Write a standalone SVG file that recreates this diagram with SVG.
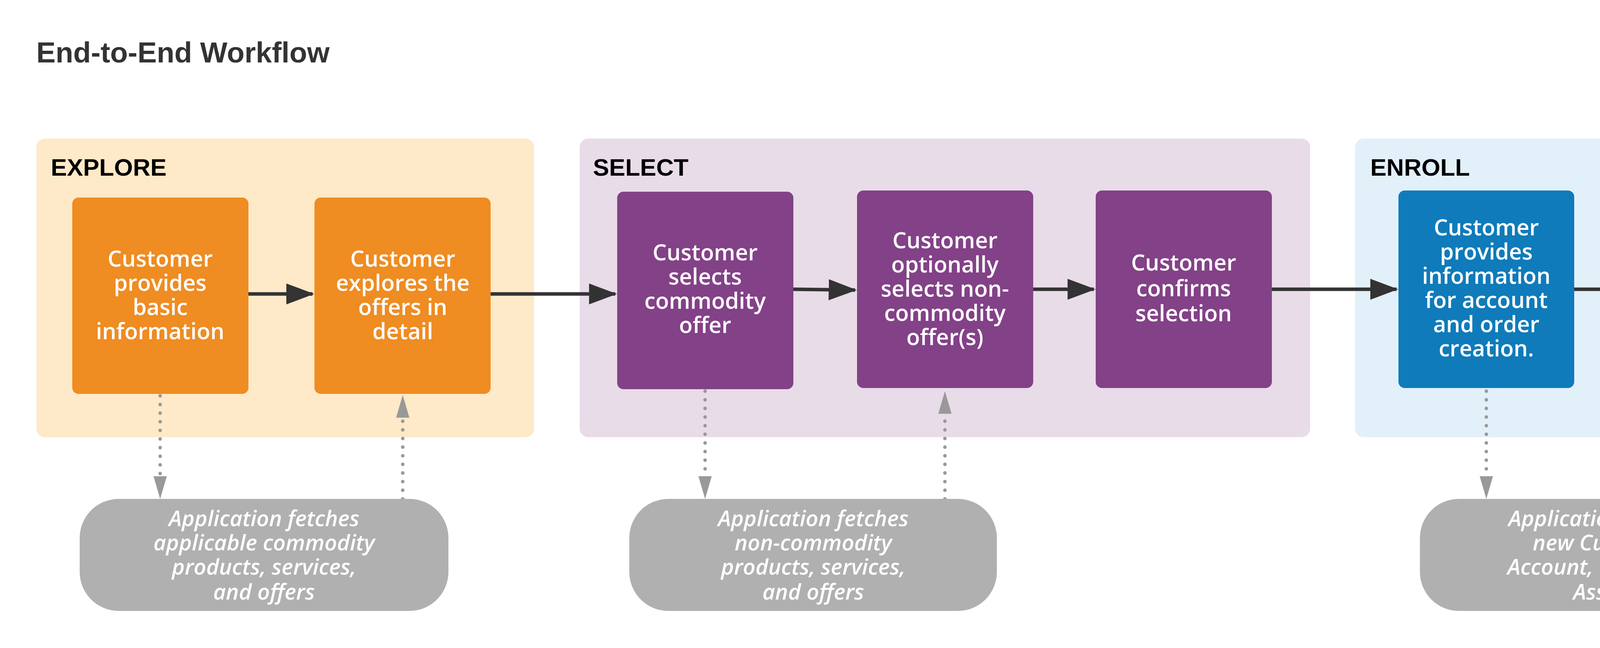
<svg xmlns="http://www.w3.org/2000/svg" width="4839" height="1660" viewBox="0 0 4839 1660">
<style>
.ttl{font-family:"Liberation Sans",Arial,sans-serif;font-weight:bold;font-size:74px;fill:#333}
.ph{font-family:"Liberation Sans",Arial,sans-serif;font-weight:bold;font-size:62px;fill:#000}
.nt{font-family:"Open Sans","Noto Sans",sans-serif;font-weight:600;font-size:57px;fill:#fff;text-anchor:middle}
.gt{font-family:"Open Sans","Noto Sans",sans-serif;font-style:italic;font-weight:600;font-size:56px;fill:#fff;text-anchor:middle}
.flow{stroke:#333;stroke-width:9;fill:none;marker-end:url(#ah)}
.dot{stroke:#999;stroke-width:9;stroke-linecap:round;stroke-dasharray:0.1 22;fill:none}
</style>
<defs>
<marker id="ah" markerWidth="8" markerHeight="6" refX="7.5" refY="3" orient="auto" markerUnits="strokeWidth"><path d="M0,0 L8,3 L0,6 Z" fill="#333"/></marker>
</defs>
<rect width="4839" height="1660" fill="#fff"/>
<text class="ttl" x="93" y="160">End-to-End Workflow</text>
<g id="explore"><rect x="93" y="355" width="1274" height="765" rx="22" fill="#FEE9C8"/><text class="ph" x="130" y="450">EXPLORE</text></g>
<g id="select"><rect x="1484" y="355" width="1870" height="765" rx="22" fill="#E8DCE9"/><text class="ph" x="1518" y="450">SELECT</text></g>
<g id="enroll"><rect x="3469" y="355" width="1274" height="765" rx="22" fill="#E2F0FA"/><text class="ph" x="3508" y="450">ENROLL</text></g>

<g id="connectors">
<line class="flow" x1="636" y1="753" x2="800" y2="753"/>
<line class="flow" x1="1256" y1="753" x2="1575" y2="753"/>
<line class="flow" x1="2031" y1="741" x2="2189" y2="743"/>
<line class="flow" x1="2645" y1="741" x2="2800" y2="741"/>
<line class="flow" x1="3256" y1="741" x2="3575" y2="741"/>
<line class="flow" x1="4030" y1="741" x2="4173" y2="741"/>
<path class="dot" d="M410 1014 V1220"/><path d="M393 1220 L427 1220 L410 1278 Z" fill="#999"/>
<path class="dot" d="M1031 1278 V1072"/><path d="M1014 1070 L1048 1070 L1031 1012 Z" fill="#999"/>
<path class="dot" d="M1805 1002 V1220"/><path d="M1788 1220 L1822 1220 L1805 1278 Z" fill="#999"/>
<path class="dot" d="M2419 1278 V1062"/><path d="M2402 1060 L2436 1060 L2419 1002 Z" fill="#999"/>
<path class="dot" d="M3805 1002 V1220"/><path d="M3788 1220 L3822 1220 L3805 1278 Z" fill="#999"/>
<path class="dot" d="M4404 1278 V1062"/><path d="M4387 1060 L4421 1060 L4404 1002 Z" fill="#999"/>
</g>

<g id="n1"><rect x="185" y="506" width="451" height="503" rx="16" fill="#EF8C22"/>
<text class="nt" x="410" y="683">Customer</text><text class="nt" x="410" y="745">provides</text><text class="nt" x="410" y="807">basic</text><text class="nt" x="410" y="869">information</text></g>
<g id="n2"><rect x="805" y="506" width="451" height="503" rx="16" fill="#EF8C22"/>
<text class="nt" x="1031" y="683">Customer</text><text class="nt" x="1031" y="745">explores the</text><text class="nt" x="1031" y="807">offers in</text><text class="nt" x="1031" y="869">detail</text></g>
<g id="n3"><rect x="1580" y="491" width="451" height="506" rx="16" fill="#834187"/>
<text class="nt" x="1805" y="667">Customer</text><text class="nt" x="1805" y="729">selects</text><text class="nt" x="1805" y="791">commodity</text><text class="nt" x="1805" y="853">offer</text></g>
<g id="n4"><rect x="2194" y="488" width="451" height="506" rx="16" fill="#834187"/>
<text class="nt" x="2419" y="636">Customer</text><text class="nt" x="2419" y="698">optionally</text><text class="nt" x="2419" y="760">selects  non-</text><text class="nt" x="2419" y="822">commodity</text><text class="nt" x="2419" y="884">offer(s)</text></g>
<g id="n5"><rect x="2805" y="488" width="451" height="506" rx="16" fill="#834187"/>
<text class="nt" x="3030" y="693">Customer</text><text class="nt" x="3030" y="759">confirms</text><text class="nt" x="3030" y="823">selection</text></g>
<g id="n6"><rect x="3580" y="488" width="450" height="506" rx="16" fill="#0F7BBA"/>
<text class="nt" x="3805" y="603">Customer</text><text class="nt" x="3805" y="665">provides</text><text class="nt" x="3805" y="727">information</text><text class="nt" x="3805" y="789">for account</text><text class="nt" x="3805" y="851">and order</text><text class="nt" x="3805" y="913">creation.</text></g>
<g id="n7"><rect x="4178" y="491" width="451" height="506" rx="16" fill="#0F7BBA"/>
<text class="nt" x="4404" y="636">Success</text><text class="nt" x="4404" y="698">Message is</text><text class="nt" x="4404" y="760">displayed with</text><text class="nt" x="4404" y="822">interaction</text><text class="nt" x="4404" y="884">information</text></g>

<g id="g1"><rect x="204" y="1278" width="944" height="287" rx="100" fill="#B0B0B0"/>
<text class="gt" x="676" y="1348">Application fetches</text><text class="gt" x="676" y="1410">applicable commodity</text><text class="gt" x="676" y="1472">products, services,</text><text class="gt" x="676" y="1536">and offers</text></g>
<g id="g2"><rect x="1611" y="1278" width="941" height="287" rx="100" fill="#B0B0B0"/>
<text class="gt" x="2082" y="1348">Application fetches</text><text class="gt" x="2082" y="1410">non-commodity</text><text class="gt" x="2082" y="1472">products, services,</text><text class="gt" x="2082" y="1536">and offers</text></g>
<g id="g3"><rect x="3635" y="1278" width="945" height="287" rx="100" fill="#B0B0B0"/>
<text class="gt" x="4107" y="1348">Application creates</text><text class="gt" x="4107" y="1410">new Customer</text><text class="gt" x="4107" y="1472">Account, Order and</text><text class="gt" x="4107" y="1536">Assets</text></g>
</svg>
